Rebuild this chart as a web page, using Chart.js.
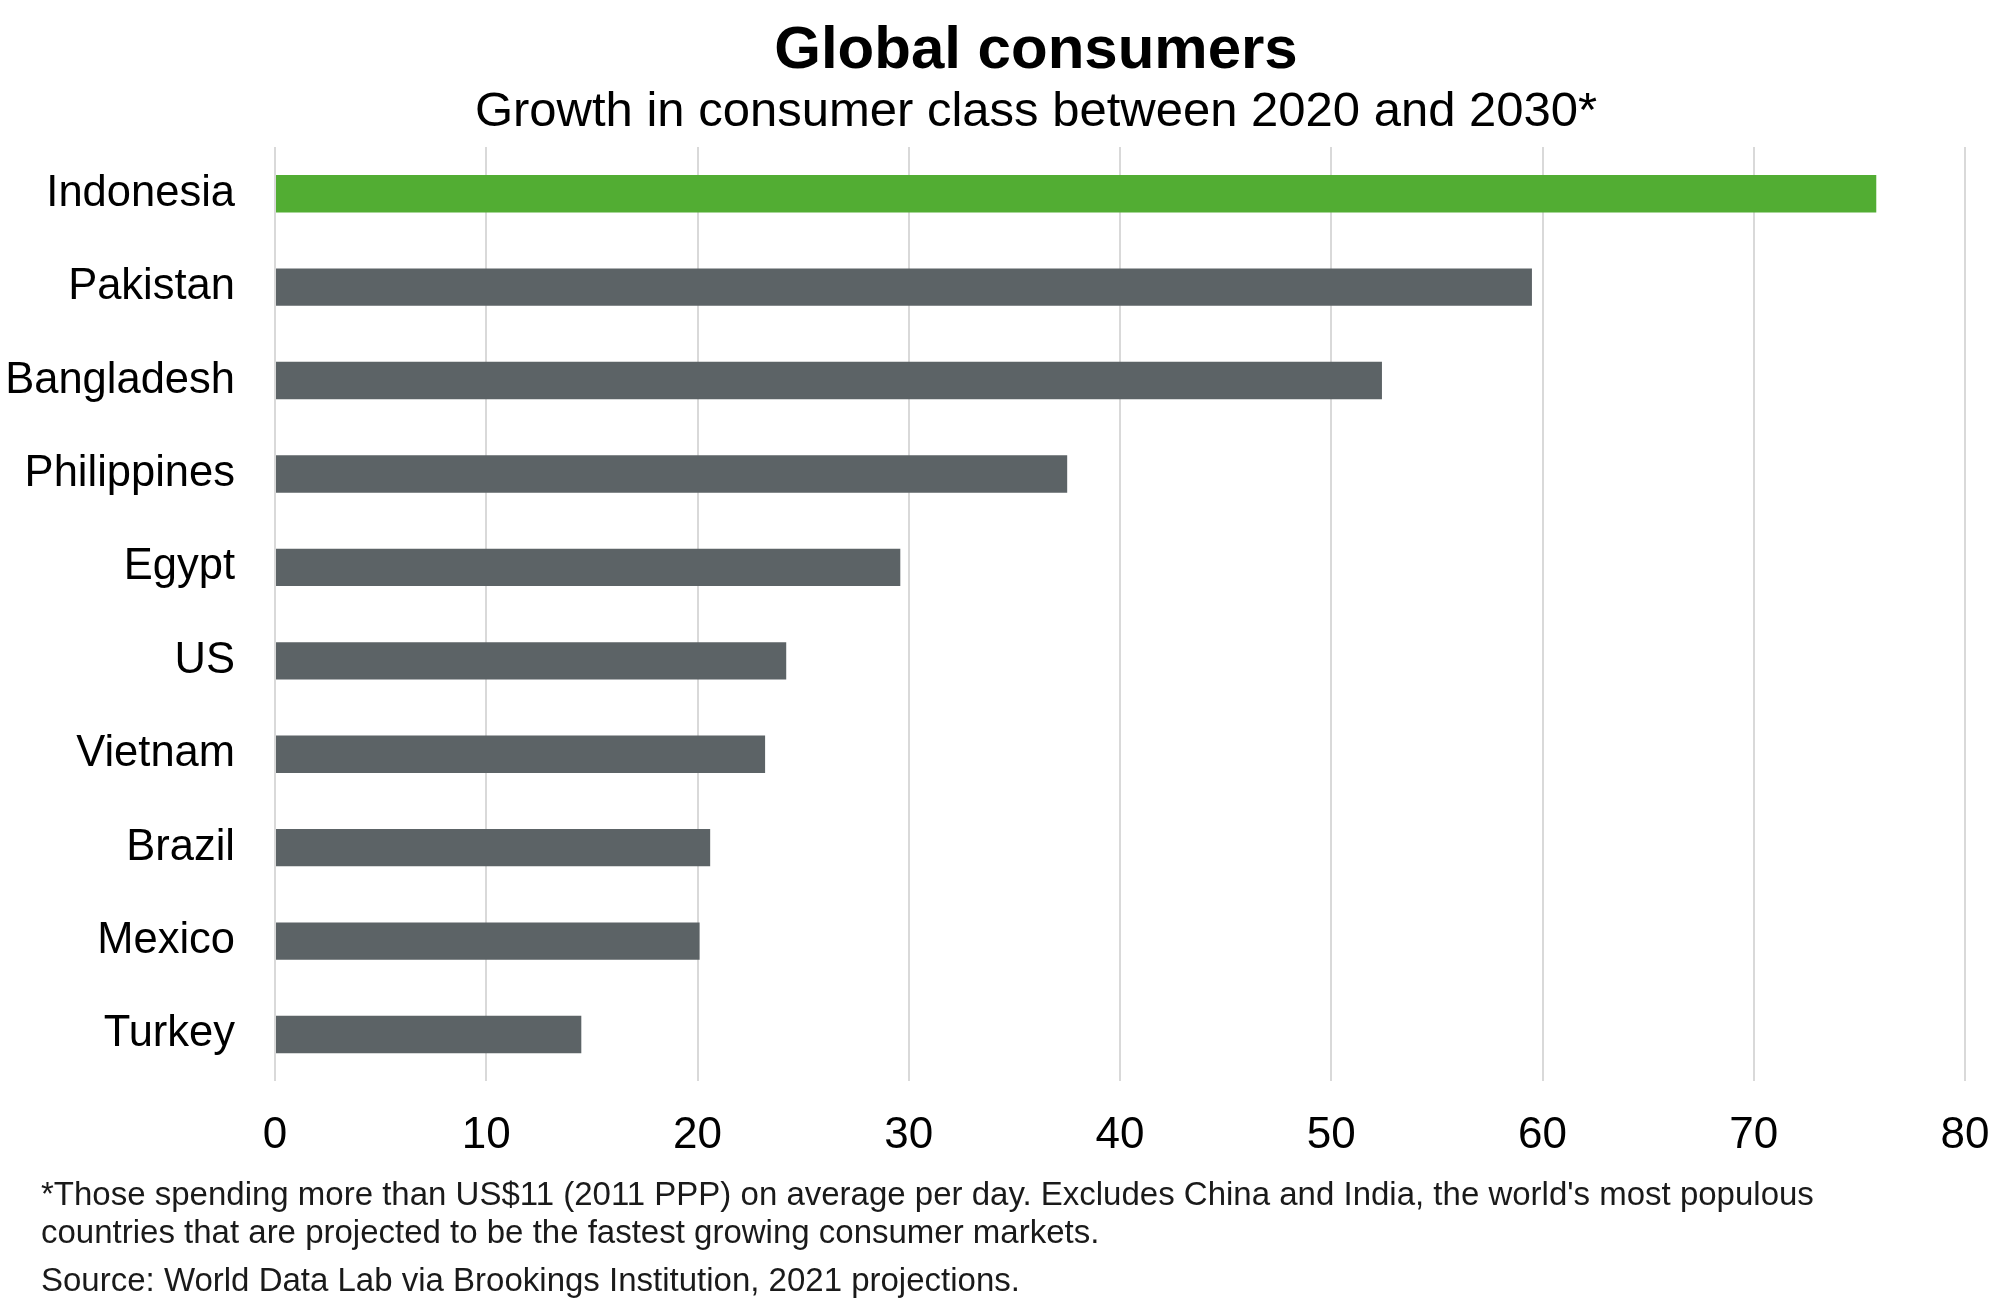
<!DOCTYPE html>
<html>
<head>
<meta charset="utf-8">
<script src="https://cdn.jsdelivr.net/npm/chart.js@4/dist/chart.umd.min.js"></script>
<style>
  html, body { margin: 0; padding: 0; background: #ffffff; }
  #wrap { position: relative; width: 2007px; height: 1313px; }
  #c { position: absolute; left: 0; top: 0; }
  .t { position: absolute; font-family: "Liberation Sans", Arial, sans-serif; color: #000; white-space: nowrap; line-height: 1; transform: translateX(-50%); }
  .note { position: absolute; left: 41px; font-family: "Liberation Sans", Arial, sans-serif; font-size: 33px; color: #1a1a1a; white-space: nowrap; line-height: 38px; }
</style>
</head>
<body>
<div id="wrap">
  <canvas id="c" width="2007" height="1313"></canvas>
  <div class="t" style="left:1036px; top:18px; font-size:60px; font-weight:bold;">Global consumers</div>
  <div class="t" style="left:1036px; top:85px; font-size:49px;">Growth in consumer class between 2020 and 2030*</div>
  <div class="note" style="top:1175px;">*Those spending more than US$11 (2011 PPP) on average per day. Excludes China and India, the world's most populous<br>countries that are projected to be the fastest growing consumer markets.</div>
  <div class="note" style="top:1261px;">Source: World Data Lab via Brookings Institution, 2021 projections.</div>
</div>
<script>
const categories = ["Indonesia", "Pakistan", "Bangladesh", "Philippines", "Egypt", "US", "Vietnam", "Brazil", "Mexico", "Turkey"];
const growth = [75.8, 59.5, 52.4, 37.5, 29.6, 24.2, 23.2, 20.6, 20.1, 14.5];
const highlighted = "Indonesia";
const xTicks = [0, 10, 20, 30, 40, 50, 60, 70, 80];

const FONT = "'Liberation Sans', Arial, sans-serif";

new Chart(document.getElementById('c'), {
  type: 'bar',
  data: {
    labels: categories,
    datasets: [{
      data: growth,
      backgroundColor: ctx => categories[ctx.dataIndex] === highlighted ? '#52ad33' : '#5c6366',
      borderWidth: 0,
      barPercentage: 0.4,
      categoryPercentage: 1.0
    }]
  },
  options: {
    indexAxis: 'y',
    responsive: false,
    animation: false,
    devicePixelRatio: 1,
    layout: { padding: { left: 0, right: 42, top: 147, bottom: 123 } },
    plugins: {
      legend: { display: false },
      tooltip: { enabled: false },
      title: { display: false },
      subtitle: { display: false }
    },
    scales: {
      x: {
        type: 'linear',
        min: xTicks[0],
        max: xTicks[xTicks.length - 1],
        afterBuildTicks: axis => { axis.ticks = xTicks.map(v => ({ value: v })); },
        afterFit: axis => { axis.paddingRight = 0; axis.paddingLeft = 0; },
        grid: { display: true, color: '#d9d9d9', lineWidth: 2, drawTicks: false },
        border: { display: false },
        ticks: { color: '#000000', font: { family: FONT, size: 44 }, padding: 28, maxRotation: 0 }
      },
      y: {
        grid: { display: false, drawTicks: false },
        border: { display: false },
        afterFit: axis => { axis.width = 275; },
        ticks: { color: '#000000', font: { family: FONT, size: 43.5 }, padding: 40 }
      }
    }
  }
});
</script>
</body>
</html>
